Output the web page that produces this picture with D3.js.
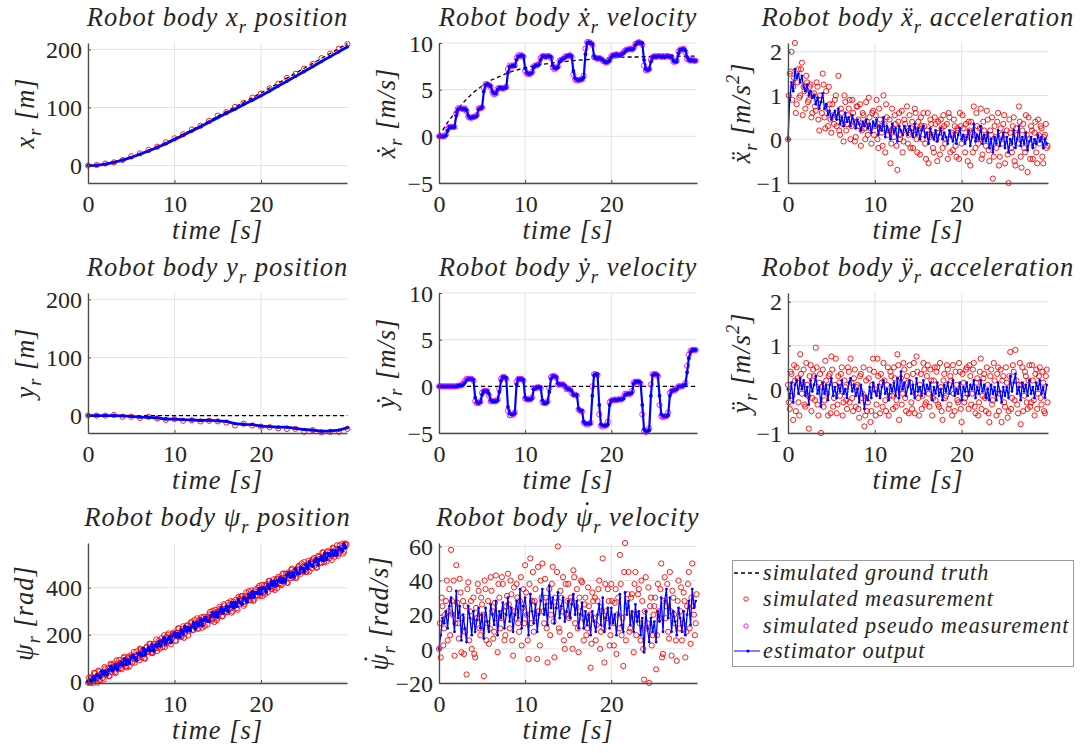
<!DOCTYPE html>
<html><head><meta charset="utf-8">
<script src="https://cdn.jsdelivr.net/npm/d3@7"></script>
<style>
body{margin:0;background:#fff}
svg{display:block}
</style>
</head><body>
<svg id="c" width="1080" height="753"></svg>
<script>
// ---------------- DATA ----------------
// 1 Hz samples (s)
const tSec = [0,1,2,3,4,5,6,7,8,9,10,11,12,13,14,15,16,17,18,19,20,21,22,23,24,25,26,27,28,29,30];
// dense series sample period (s); "B" series are sampled half a period later
const dt = 0.2;

const timeTicks = [0,10,20];
const posTicks = [0,100,200];
const velTicks = [-5,0,5,10];
const accTicks = [-1,0,1,2];
const psiPosTicks = [0,200,400];
const psiVelTicks = [-20,0,20,40,60];

// x position [m]
const xPosTruth = [0,0.7,2.8,6,10,15,20.5,26.5,33,39.5,46.5,54,61.5,69,77,85,93,101,109,117,125,133.5,142,150.5,159,167.5,176,184.5,193,201.5,210];
const xPosMeas  = [0,1,3.5,5.5,9.5,16,21,27,32.5,40,47,54,62,68.5,77,86,92,101,108,117,124,133,141,151,158,167,175,185,193,201,209];
const xPosEst   = [0,0.5,2.5,5.5,9.5,14,19.5,25,31,37.5,45,52,59.5,67,74.5,82.5,90,97,105,112.5,120,128.5,137,145,153.5,162,170.5,179,187.5,196,204.5];

// y position [m]
const yPosTruth = [0,0,0,0,0,0,0,0,0,0,0,0,0,0,0,0,0,0,0,0,0,0,0,0,0,0,0,0,0,0,0];
const yPosMeas  = [0,0,0,1,-2,-2,-4,-2,-5,-7.5,-6,-9,-8,-10,-9,-10,-12,-17,-14,-17,-19,-20,-22,-23,-23,-28,-25,-29,-28,-28,-23];
const yPosEst   = [0,0,0,0,-0.5,-1.5,-2.5,-3,-4,-6,-6,-7,-7.5,-8.5,-8,-9,-10,-14,-15,-15.5,-18,-19,-20,-20,-22,-24,-25,-27,-26.5,-25,-21];

// x velocity [m/s]
const xVelTruth = [0,1.5,2.7,3.8,4.7,5.4,6.0,6.4,6.8,7.1,7.35,7.55,7.7,7.85,7.95,8.05,8.15,8.2,8.3,8.35,8.4,8.45,8.5,8.5,8.55,8.55,8.6,8.6,8.6,8.6,8.6];
const xVelEst = [0,0,0,0,0.1, 0.6,1.0,1.0,1.0,1.0, 2.2,2.9,3.0,3.0,2.9,3.0,2.8, 2.2,2.0,2.0,2.1,2.1,2.2, 2.9,3.0,3.1, 4.8,5.5,5.6,5.5,5.4, 4.8,4.6,4.6, 5.0,5.2,5.2,5.1,5.2,5.2, 6.8,7.5,7.5,7.6,7.5, 8.2,8.6,8.6,8.7,8.6, 7.3,6.8,6.7,6.7,6.8, 7.4,7.6,7.6,7.7, 8.2,8.6,8.6,8.5,8.6,8.6,8.5, 7.6,7.3,7.3,7.4, 8.0,8.2,8.3,8.4,8.6,8.6,8.7,8.6, 7.0,6.2,6.1,6.0,6.1,6.1,6.3, 8.8,10.0,10.1,10.0,9.9, 8.6,8.4,8.3,8.4,8.3,8.2, 8.0,7.9,8.0,8.1, 8.5,8.7,8.7,8.8,8.7,8.7,8.8,8.9, 9.1,9.3,9.3,9.4,9.3,9.4, 9.8,10.0,10.1,10.0,10.0, 8.2,7.2,7.1,7.2, 8.0,8.5,8.6,8.5,8.6,8.6,8.5,8.6,8.5,8.6,8.6,8.5,8.6, 8.1,8.0,8.0, 8.9,9.3,9.3,9.4,9.2, 8.5,8.2,8.1,8.2,8.1,8.1];
const xVelPseudo = [0,0,0,0,0.2, 0.8,1.0,1.0,1.0,1.0, 2.5,3.0,3.0,3.0,2.9,3.0,2.7, 2.1,2.0,2.0,2.1,2.1,2.3, 3.0,3.0,3.1, 5.2,5.6,5.6,5.5,5.3, 4.7,4.5,4.6, 5.1,5.2,5.2,5.1,5.2,5.3, 7.2,7.6,7.5,7.6,7.6, 8.4,8.7,8.6,8.7,8.5, 7.0,6.7,6.7,6.7,6.9, 7.5,7.6,7.6,7.8, 8.4,8.6,8.6,8.5,8.6,8.6,8.4, 7.4,7.2,7.3,7.5, 8.1,8.2,8.3,8.5,8.6,8.6,8.7,8.5, 6.6,6.1,6.0,6.0,6.1,6.1,6.5, 9.4,10.1,10.1,10.0,9.8, 8.5,8.4,8.3,8.4,8.3,8.1, 8.0,7.9,8.0,8.2, 8.6,8.7,8.7,8.8,8.7,8.7,8.8,9.0, 9.2,9.3,9.3,9.4,9.3,9.5, 9.9,10.0,10.1,10.0,9.8, 7.6,7.1,7.1,7.2, 8.2,8.5,8.6,8.5,8.6,8.6,8.5,8.6,8.5,8.6,8.6,8.5,8.5, 8.0,8.0,8.1, 9.1,9.3,9.3,9.4,9.0, 8.3,8.2,8.1,8.2,8.1,8.1];

// y velocity [m/s]
const yVelTruth = [0,0,0,0,0,0,0,0,0,0,0,0,0,0,0,0,0,0,0,0,0,0,0,0,0,0,0,0,0,0,0];
const yVelEst = [0,0,0,0,0,0,0,0,0,0,0, 0.05,0.1,0.1, 0.2,0.4,0.7, 0.8,0.8,0.8,0.7, -1.2,-1.7,-1.8,-1.7, -0.9,-0.5,-0.5,-0.5, -0.8,-1.5,-1.6,-1.6,-1.6,-1.5, -0.6, 0.6,1.0,1.0,0.9, -2.2,-2.9,-3.0,-3.0,-2.9, 0.2,0.8,0.8,0.8,0.7, -1.2,-1.4,-1.4,-1.4,-1.3, -0.3,-0.2,-0.1,-0.1,-0.1, -1.5,-1.8,-1.8,-1.7, -0.6,0.8,1.1,1.1,1.0, 0.3,0.2,0.2,0.2,0.1, -0.2,-0.3,-0.3, -0.5,-0.9,-0.9,-0.9, -2.4,-2.6,-2.6, -3.8,-4.0,-4.0,-4.0,-4.0, -1.0,1.2,1.3,1.3, -2.0,-4.1,-4.2,-4.2,-4.2,-4.1, -2.0,-1.5,-1.5,-1.4,-1.5,-1.4,-1.4,-1.4,-1.3, -0.9,-0.8,-0.8,-0.8,-0.7, 0.3,0.5,0.5,0.5,0.4, -2.0,-4.6,-4.8,-4.8,-4.7, -1.0,1.2,1.3,1.3,1.2, -1.0,-3.0,-3.2,-3.2,-3.2,-3.1, -1.0,-0.5,-0.4,-0.4,-0.3, 0,0,0,0.1,0.2, 1.5,3.0,3.7,3.9,3.9,3.9];
const yVelPseudo = [0,0,0,0,0,0,0,0,0,0,0, 0.05,0.1,0.1, 0.3,0.6,0.8, 0.8,0.8,0.8,0.6, -1.6,-1.8,-1.8,-1.6, -0.7,-0.5,-0.5,-0.5, -1.0,-1.6,-1.6,-1.6,-1.6,-1.4, -0.3, 0.8,1.0,1.0,0.8, -2.6,-3.1,-3.1,-3.0,-2.8, 0.5,0.8,0.8,0.8,0.6, -1.3,-1.4,-1.4,-1.4,-1.2, -0.2,-0.2,-0.1,-0.1,-0.2, -1.7,-1.8,-1.8,-1.6, -0.2,1.0,1.1,1.1,0.9, 0.2,0.2,0.2,0.2,0.0, -0.3,-0.3,-0.3, -0.7,-0.9,-0.9,-1.0, -2.5,-2.6,-2.7, -3.9,-4.0,-4.1,-4.0,-3.9, 0.0,1.3,1.3,1.2, -3.0,-4.2,-4.3,-4.2,-4.2,-3.8, -1.7,-1.5,-1.5,-1.4,-1.5,-1.4,-1.4,-1.4,-1.2, -0.8,-0.8,-0.8,-0.8,-0.5, 0.4,0.5,0.5,0.5,0.3, -3.0,-4.8,-4.9,-4.8,-4.5, 0.2,1.3,1.3,1.3,1.1, -2.0,-3.2,-3.3,-3.2,-3.2,-2.8, -0.7,-0.5,-0.4,-0.4,-0.2, 0,0,0,0.1,0.4, 2.2,3.4,3.8,3.9,3.9,3.9];

// x acceleration [m/s^2]
const xAccMeas = [0.0,1.5,2.0,1.2,2.2, 0.8,1.6,1.0,1.75,1.2, 0.7,1.3,0.9,1.25,0.6, 1.05,0.65,1.2,0.2,0.9, 1.5,0.5,1.1,0.3,0.8, 0.15,0.55,0.9,0.3,1.45, 0.1,0.6,-0.05,0.85,0.35, 0.7,0.0,0.9,0.4,0.05, 0.75,0.3,-0.15,0.6,0.25, 0.85,0.1,0.5,-0.1,0.65, 0.3,0.9,-0.2,0.45,0.15, 1.0,-0.3,0.5,0.2,-0.55, 0.7,0.05,0.35,-0.7,0.6, 0.1,-0.3,0.45,0.2,-0.1, 0.55,0.25,-0.2,0.7,0.0, 0.4,-0.35,0.3,0.6,-0.1, 0.2,-0.55,0.45,0.1,-0.3, 0.35,-0.5,0.15,0.45,-0.2, 0.3,0.0,-0.45,0.5,0.1, -0.25,0.3,-0.4,0.2,0.6, -0.1,0.25,-0.3,0.05,0.4, -0.6,0.15,0.75,-0.2,0.3, 0.0,0.7,-0.35,0.2,-0.15, 0.45,-0.5,0.1,-0.9,0.3, -0.2,0.6,-0.4,0.1,0.35, -0.55,0.2,-1.0,0.15,-0.3, 0.5,-0.6,0.1,0.75,-0.4, 0.2,-0.2,0.55,-0.75,0.0, 0.3,-0.45,0.15,-0.3,0.45, -0.1,0.25,-0.55,0.1,-0.2];
const xAccMeasB = [1.0,1.55,0.9,1.4,0.6, 1.3,0.95,1.6,0.55,1.1, 1.45,0.85,1.2,0.5,1.0, 0.75,1.3,0.45,1.0,0.6, 1.25,0.25,0.7,1.2,0.45, 0.8,0.35,1.0,0.5,0.2, 0.7,0.35,1.0,0.2,0.55, 0.9,0.3,0.6,-0.05,0.75, 0.45,0.8,0.2,0.55,0.0, 0.4,0.95,0.25,0.6,0.1, 0.55,0.0,0.7,0.3,-0.15, 0.35,0.8,0.1,0.45,-0.1, 0.25,0.55,-0.15,0.4,0.0, 0.65,-0.05,0.35,0.75,0.1, -0.2,0.4,0.1,0.6,-0.3, 0.25,0.5,0.0,0.3,-0.45, 0.6,0.05,0.35,-0.2,0.5, 0.0,0.4,-0.35,0.25,0.55, -0.1,0.35,0.6,-0.3,0.15, 0.45,-0.15,0.25,-0.45,0.3, 0.55,0.0,0.35,-0.5,0.2, 0.4,-0.3,0.1,0.6,-0.1, 0.25,-0.45,0.4,0.05,0.65, -0.25,0.2,0.5,-0.4,0.05, 0.4,-0.6,0.25,-0.1,0.55, 0.1,-0.35,0.45,-0.2,0.3, -0.5,0.25,-0.1,0.4,-0.65, 0.35,-0.3,0.1,0.5,-0.45, 0.2,-0.15,0.4,-0.55,0.1, 0.3,-0.4,0.05,0.35,-0.15];
const xAccEst = [0.0,0.9,1.3,1.1,1.6, 1.4,1.5,1.3,1.45,1.2, 1.1,1.25,1.0,1.1,0.95, 1.0,0.8,0.95,0.7,0.85, 1.05,0.7,0.8,0.55,0.65, 0.45,0.55,0.65,0.45,0.7, 0.35,0.5,0.3,0.6,0.4, 0.5,0.3,0.55,0.4,0.25, 0.45,0.35,0.2,0.4,0.3, 0.45,0.25,0.35,0.15,0.4, 0.3,0.45,0.1,0.3,0.2, 0.5,0.05,0.3,0.2,0.0, 0.35,0.15,0.25,-0.05,0.3, 0.2,0.1,0.3,0.2,0.1, 0.3,0.2,0.05,0.35,0.1, 0.25,0.0,0.2,0.3,0.05, 0.15,-0.1,0.25,0.1,0.0, 0.2,-0.05,0.1,0.25,0.0, 0.15,0.05,-0.1,0.2,0.05, -0.05,0.15,-0.1,0.1,0.25, 0.0,0.1,-0.1,0.05,0.2, -0.15,0.05,0.35,-0.05,0.1, 0.0,0.3,-0.1,0.1,-0.05, 0.15,-0.2,0.0,-0.3,0.05, -0.1,0.2,-0.15,0.0,0.15, -0.2,0.05,-0.3,0.0,-0.1, 0.2,-0.2,0.0,0.3,-0.15, 0.05,-0.1,0.15,-0.25,-0.05, 0.05,-0.2,0.0,-0.1,0.1, -0.05,0.05,-0.2,0.0,-0.1];

// y acceleration [m/s^2]
const yAccMeas = [0.1,-0.45,0.35,-0.7,0.2, 0.5,-0.3,0.8,-0.1,0.45, -0.4,0.1,-0.9,0.55,-0.2, 0.3,0.95,-0.35,0.15,-1.0, 0.45,-0.25,0.2,-0.6,0.35, 0.75,-0.4,0.1,-0.55,0.3, -0.15,0.5,-0.3,0.05,-0.45, 0.4,0.7,-0.2,0.25,-0.4, 0.1,-0.65,0.35,-0.1,-0.85, 0.2,-0.3,0.45,-0.5,0.7, 0.0,-0.35,0.3,-0.55,0.15, 0.6,-0.25,0.1,-0.6,0.4, -0.15,0.5,-0.4,0.8,-0.7, 0.25,-0.1,0.45,-0.5,0.15, 0.55,-0.3,0.35,-0.55,0.75, -0.2,0.1,-0.45,0.6,-0.35, 0.3,-0.1,0.45,-0.6,0.2, -0.25,0.5,-0.4,0.05,-0.7, 0.35,-0.15,0.45,-0.35,0.2, 0.55,-0.5,0.1,-0.3,0.4, -0.75,0.15,-0.2,0.5,-0.45, 0.3,-0.1,0.6,-0.55,0.25, -0.3,0.7,-0.15,0.35,-0.5, 0.1,-0.75,0.45,-0.25,0.2, -0.6,0.5,-0.1,-0.75,0.3, -0.4,0.15,-0.5,0.85,-0.2, 0.4,0.9,-0.35,0.1,-0.8, 0.5,-0.15,0.3,-0.45,0.55, -0.3,0.2,-0.6,0.45,-0.1, 0.5,-0.35,0.15,-0.55,0.45];
const yAccMeasB = [-0.3,0.4,-0.15,0.55,-0.5, 0.25,-0.6,0.35,0.1,-0.35, 0.6,-0.15,0.3,-0.5,0.45, -0.25,0.5,-0.6,0.35,0.05, -0.4,0.65,-0.1,0.3,-0.55, 0.45,-0.2,0.7,-0.35,0.15, 0.35,-0.6,0.2,-0.25,0.5, -0.3,0.15,-0.5,0.45,0.05, -0.45,0.3,-0.2,0.5,-0.6, -0.5,0.25,-0.75,0.1,0.4, -0.6,0.7,-0.1,0.35,-0.4, 0.2,-0.5,0.5,-0.15,0.3, -0.45,0.25,-0.25,0.55,0.0, -0.35,0.6,-0.2,0.3,-0.55, 0.15,-0.45,0.6,-0.1,0.4, -0.6,0.35,-0.15,0.45,-0.3, 0.55,-0.4,0.2,-0.2,0.5, 0.4,-0.35,0.6,-0.5,0.2, -0.2,0.55,-0.45,0.3,-0.6, -0.1,0.4,-0.25,0.6,-0.45, 0.35,-0.3,0.45,-0.1,0.55, -0.35,0.45,-0.4,0.15,-0.6, 0.4,-0.45,0.25,-0.2,0.5, -0.55,0.3,-0.35,0.6,-0.1, 0.35,-0.5,0.45,0.2,-0.3, 0.5,-0.65,0.3,-0.45,0.55, -0.25,0.2,-0.55,0.6,0.1, -0.5,0.4,-0.3,0.2,-0.4, 0.55,-0.25,0.35,-0.45,0.3, -0.2,0.4,-0.5,0.3,-0.3];
const yAccEst = [0.0,-0.2,0.15,-0.3,0.1, 0.2,-0.1,0.25,0.0,0.2, -0.15,0.05,-0.35,0.2,-0.05, 0.1,0.3,-0.1,0.05,-0.4, 0.15,-0.1,0.1,-0.25,0.1, 0.25,-0.15,0.05,-0.2,0.1, -0.05,0.2,-0.1,0.0,-0.2, 0.15,0.25,-0.05,0.1,-0.15, 0.0,-0.3,0.1,-0.1,-0.45, -0.15,-0.25,0.05,-0.2,0.15, -0.05,-0.15,0.1,-0.2,0.05, 0.2,-0.1,0.0,-0.25,0.1, -0.05,0.15,-0.15,0.25,-0.2, 0.4,0.0,0.15,-0.15,0.05, 0.2,-0.1,0.1,-0.2,0.25, -0.05,0.05,-0.15,0.2,-0.1, 0.1,0.0,0.15,-0.25,0.05, -0.1,0.15,-0.15,0.0,-0.25, 0.1,-0.05,0.15,-0.1,0.05, 0.2,-0.15,0.0,-0.1,0.15, -0.25,0.05,-0.05,0.15,-0.15, 0.1,0.0,0.2,-0.2,0.05, -0.1,0.2,-0.05,0.1,-0.2, 0.0,-0.25,0.1,-0.1,0.05, -0.25,0.15,-0.05,-0.3,0.05, -0.15,0.05,-0.2,0.3,-0.05, 0.15,0.35,-0.1,0.05,-0.25, 0.15,-0.05,0.1,-0.15,0.2, -0.1,0.05,-0.2,0.15,0.0, 0.2,-0.1,0.05,-0.2,0.1];

// psi position [rad]
const psiPosMeas = [-4,-4,22,-5,37,13,48,7,39,9, 57,39,24,77,42,78,37,71,93,58, 69,107,66,101,66,113,103,81,129,101, 141,104,133,99,150,130,162,122,161,142, 130,175,168,147,198,161,199,174,159,204, 203,175,227,201,191,236,205,239,197,236, 254,221,233,270,227,264,230,277,266,243, 286,265,302,254,297,272,319,295,280,325, 296,336,310,294,341,333,313,361,330,365, 323,365,352,386,347,376,349,393,366,408, 380,365,412,408,381,429,395,420,390,437, 446,419,414,461,443,421,465,441,481,454, 442,479,494,459,475,509,467,498,469,513, 521,493,485,535,523,504,550,521,511,554, 551,518,568,542,580,545,558,587,553,587];
const psiPosMeasB = [17,-4,16,38,5,-4,44,31,16,63, 32,57,24,73,63,41,91,54,81,53, 102,79,61,108,104,81,127,95,114,91, 138,134,99,145,127,161,126,123,160,180, 148,141,186,173,147,190,206,171,184,210, 174,208,227,191,223,187,224,240,216,253, 220,263,236,225,264,274,248,237,276,271, 297,259,269,306,262,300,311,278,330,301, 296,325,343,299,330,349,306,351,364,338, 331,380,363,347,388,344,384,369,400,365, 412,380,374,415,429,403,394,436,428,399, 440,410,459,430,459,420,454,476,442,471, 442,488,467,503,468,496,467,515,494,483, 526,516,486,531,508,550,509,536,555,524, 535,570,531,565,536,580,568,545,587,583];
const psiPosEst = [0,7,4,20,9,29,25,18,45,32, 45,30,50,65,47,59,73,52,74,82, 72,97,75,92,80,104,112,102,92,120, 120,112,141,116,133,145,133,157,132,156, 151,170,153,172,186,162,179,190,168,196, 206,192,204,191,219,204,234,216,230,218, 234,250,226,251,241,263,239,263,272,259, 258,280,292,279,295,275,298,314,292,306, 320,300,320,336,316,335,321,349,336,330, 356,353,339,371,358,382,361,380,376,396, 374,398,398,383,412,398,426,410,427,408, 430,441,423,438,424,453,462,446,462,447, 479,463,460,485,482,468,498,482,509,496, 492,512,522,498,521,532,518,545,521,544, 537,558,539,557,540,570,565,556,584,570];

// psi velocity [rad/s]
const psiVelMeas = [0,-5,25,12,28, 5,35,58,20,-4, 49,15,41,-2,28, 10,-15,39,22,0, 30,-5,18,34,8, 26,-16,35,15,3, 42,22,10,43,-2, 30,18,38,5,25, 44,12,32,-4,22, 38,15,28,2,35, 49,20,-6,53,28, 10,35,-6,22,40, 50,15,30,-8,35, 20,48,-5,25,60, 10,30,42,0,20, 38,8,28,46,15, 35,-2,22,39,5, 30,12,25,-11,33, 18,5,28,40,10, 53,-8,22,35,2, 38,15,27,-3,30, 55,8,-10,62,25, 45,12,32,-2,45, 20,35,5,28,-18, 42,15,-20,30,8, 25,-12,38,18,50, -3,42,25,10,45, -4,30,15,-7,40, 22,5,33,-5,25, 45,3,50,20,15];
const psiVelMeasB = [15,30,2,20,40, 22,8,28,40,15, 27,6,33,18,-3, 25,35,5,28,16, -3,24,38,12,30, 20,40,5,28,12, 34,6,27,18,38, 12,42,22,8,31, 26,40,5,36,18, 30,10,42,24,15, 33,5,38,15,45, 28,18,48,2,30, 22,41,12,28,8, 38,16,30,45,12, 34,22,5,38,28, 18,30,0,42,25, 12,30,40,18,26, 8,36,20,3,28, 30,14,35,0,22, 12,38,18,28,8, 28,2,35,20,12, 38,18,45,5,32, 10,30,20,38,8, 32,15,40,0,22, 12,36,25,2,20, 30,8,22,35,-5, 28,18,38,6,22, 34,20,5,28,12, 36,15,28,10,38, 12,30,25,8,32];
const psiVelEst = [0,8,18,15,22, 12,25,30,20,10, 34,18,25,5,20, 12,4,25,18,8, 22,10,17,24,12, 20,6,24,16,10, 26,20,14,28,8, 22,18,27,12,20, 30,16,24,10,20, 28,18,35,12,25, 30,20,8,32,22, 15,26,10,20,28, 35,20,26,14,37, 24,30,15,24,33, 18,25,30,16,22, 28,18,26,32,20, 28,12,20,27,12, 22,14,20,8,22, 16,10,20,26,14, 30,10,18,24,12, 24,15,20,8,20, 32,14,10,33,20, 28,14,22,10,26, 16,22,8,18,-2, 22,12,4,18,10, 16,4,22,16,30, 10,28,35,18,30, 10,22,16,8,24, 18,10,22,8,20, 28,14,35,24,28];

const legendLabels = ["simulated ground truth","simulated measurement","simulated pseudo measurement","estimator output"];

// ---------------- FONTS ----------------
function hasFont(name) {
  const c = document.createElement('canvas').getContext('2d');
  const s = 'mmmmmmmmwwwwwlllii1O0';
  c.font = '72px monospace'; const a = c.measureText(s).width;
  c.font = `72px "${name}", monospace`; const b = c.measureText(s).width;
  return Math.abs(a - b) > 0.5;
}
const isLib = hasFont('Liberation Serif');
const SERIF = isLib ? '"Liberation Serif", serif' : (hasFont('DejaVu Serif') ? '"DejaVu Serif", serif' : 'serif');
const LS = isLib ? 1.0 : 0;   // letter spacing for italic texts

// ---------------- DRAWING ----------------
const svg = d3.select('#c').style('font-family', SERIF);
const tDense = xAccMeas.map((_, i) => i * dt);
const tDenseB = xAccMeasB.map((_, i) => i * dt + dt / 2);
const zip = (t, v) => v.map((d, i) => [t[i], d]);

const cols = [[88,347],[439,697],[788,1048]];
const rows = [[43,183],[293,433],[543,683]];
const tDomain = [0, 29.95];
const C = {meas:'#ff0000', pseudo:'#ff00ff', est:'#0000ff'};
const INK = '#262626';

const sub = t => ({t, sub:true});
const sup = t => ({t, sup:true});
const dotted = t => ({t, dot:true});

function addRich(textSel, parts, fs) {
  let shift = 0, idx = 0; const dots = [];
  parts.forEach(p => {
    const ts = textSel.append('tspan');
    let txt = p, target = 0, size = null;
    if (typeof p === 'object') {
      txt = p.t;
      if (p.sub || p.sup) { size = fs * 0.7; target = p.sub ? fs * 0.25 : -fs * 0.42; }
      if (p.dot) dots.push(idx);
    }
    if (target - shift !== 0) ts.attr('dy', target - shift);
    if (size) ts.attr('font-size', size);
    ts.text(txt);
    idx += txt.length;
    shift = target;
  });
  return dots;
}
function plain(parts) { return parts.map(p => typeof p === 'string' ? p : p.t).join(''); }
function measure(parts, italic) {
  const t = svg.append('text').attr('font-size', 100).attr('font-style', italic ? 'italic' : 'normal');
  addRich(t, parts, 100);
  const w = t.node().getBBox().width; t.remove(); return w;
}
function fit(parts, italic, target, ls) {
  const n = plain(parts).length;
  return 100 * (target - ls * (n - 1)) / measure(parts, italic);
}
function richText(transform, parts, fs, ls, anchor) {
  const g = svg.append('g').attr('transform', transform);
  const t = g.append('text').attr('text-anchor', anchor || 'middle').attr('font-style', 'italic')
    .attr('font-size', fs).attr('fill', INK).style('letter-spacing', ls + 'px');
  const dots = addRich(t, parts, fs);
  dots.forEach(i => {
    const e = t.node().getExtentOfChar(i);
    g.append('circle').attr('cx', e.x + e.width * 0.66).attr('cy', -fs * 0.84)
      .attr('r', Math.max(1.2, fs * 0.055)).attr('fill', INK);
  });
  return g;
}

const TITLE_FS = fit(['Robot body ','x',sub('r'),' position'], true, 261, LS);
const LABEL_FS = fit(['time [s]'], true, 90, LS);
const TICK_FS = fit(['200'], false, 36, 0);
const LEG_FS = fit(['simulated pseudo measurement'], true, 306, LS);

const panels = [
  {r:0,c:0, title:['Robot body ','x',sub('r'),' position'], ylab:['x',sub('r'),' [m]'], ylabX:34,
   ydom:[-30,211], yticks:posTicks,
   layers:[{k:'truth',d:zip(tSec,xPosTruth)},{k:'meas',d:zip(tSec,xPosMeas)},{k:'est',d:zip(tSec,xPosEst),w:2.8,r:1.7}]},
  {r:0,c:1, title:['Robot body ','\u1E8B',sub('r'),' velocity'], ylab:['\u1E8B',sub('r'),' [m/s]'], ylabX:395,
   ydom:[-5,10], yticks:velTicks,
   layers:[{k:'truth',d:zip(tSec,xVelTruth)},{k:'pseudo',d:zip(tDense,xVelPseudo)},{k:'est',d:zip(tDense,xVelEst),w:2.2,r:1.9}]},
  {r:0,c:2, title:['Robot body ','\u1E8D',sub('r'),' acceleration'], ylab:['\u1E8D',sub('r'),' [m/s',sup('2'),']'], ylabX:750,
   ydom:[-1,2.2], yticks:accTicks,
   layers:[{k:'meas',d:zip(tDense,xAccMeas)},{k:'meas',d:zip(tDenseB,xAccMeasB)},{k:'est',d:zip(tDense,xAccEst),w:1.3,r:1.4}]},
  {r:1,c:0, title:['Robot body ','y',sub('r'),' position'], ylab:['y',sub('r'),' [m]'], ylabX:34,
   ydom:[-30,211], yticks:posTicks,
   layers:[{k:'truth',d:zip(tSec,yPosTruth)},{k:'meas',d:zip(tSec,yPosMeas)},{k:'est',d:zip(tSec,yPosEst),w:2.8,r:1.7}]},
  {r:1,c:1, title:['Robot body ','\u1E8F',sub('r'),' velocity'], ylab:['\u1E8F',sub('r'),' [m/s]'], ylabX:395,
   ydom:[-5,10], yticks:velTicks,
   layers:[{k:'truth',d:zip(tSec,yVelTruth)},{k:'pseudo',d:zip(tDense,yVelPseudo)},{k:'est',d:zip(tDense,yVelEst),w:2.2,r:1.9}]},
  {r:1,c:2, title:['Robot body ','\u00FF',sub('r'),' acceleration'], ylab:['\u00FF',sub('r'),' [m/s',sup('2'),']'], ylabX:750,
   ydom:[-1,2.2], yticks:accTicks,
   layers:[{k:'meas',d:zip(tDense,yAccMeas)},{k:'meas',d:zip(tDenseB,yAccMeasB)},{k:'est',d:zip(tDense,yAccEst),w:1.3,r:1.4}]},
  {r:2,c:0, title:['Robot body ','\u03C8',sub('r'),' position'], ylab:['\u03C8',sub('r'),' [rad]'], ylabX:33,
   ydom:[-5,590], yticks:psiPosTicks,
   layers:[{k:'meas',d:zip(tDense,psiPosMeas)},{k:'meas',d:zip(tDenseB,psiPosMeasB)},{k:'est',d:zip(tDense,psiPosEst),w:1.6,r:2.0}]},
  {r:2,c:1, title:['Robot body ',dotted('\u03C8'),sub('r'),' velocity'], ylab:[dotted('\u03C8'),sub('r'),' [rad/s]'], ylabX:388,
   ydom:[-20,62], yticks:psiVelTicks,
   layers:[{k:'meas',d:zip(tDense,psiVelMeas)},{k:'meas',d:zip(tDenseB,psiVelMeasB)},{k:'est',d:zip(tDense,psiVelEst),w:1.3,r:1.4}]}
];

panels.forEach(p => {
  const [x0, x1] = cols[p.c], [y0, y1] = rows[p.r];
  const x = d3.scaleLinear().domain(tDomain).range([x0, x1]);
  const y = d3.scaleLinear().domain(p.ydom).range([y1, y0]);
  const g = svg.append('g');

  g.append('g').selectAll('line').data(p.yticks).join('line')
    .attr('x1', x0).attr('x2', x1).attr('y1', d => y(d)).attr('y2', d => y(d))
    .attr('stroke', '#e2e2e2').attr('stroke-width', 1);
  g.append('g').selectAll('line').data(timeTicks).join('line')
    .attr('x1', d => x(d)).attr('x2', d => x(d)).attr('y1', y0).attr('y2', y1)
    .attr('stroke', '#e2e2e2').attr('stroke-width', 1);

  const line = d3.line().x(d => x(d[0])).y(d => y(d[1]));
  p.layers.forEach(L => {
    if (L.k === 'truth') {
      g.append('path').attr('d', line(L.d)).attr('fill', 'none')
        .attr('stroke', '#000').attr('stroke-width', 1.3).attr('stroke-dasharray', '4,3');
    } else if (L.k === 'meas' || L.k === 'pseudo') {
      g.append('g').selectAll('circle').data(L.d).join('circle')
        .attr('cx', d => x(d[0])).attr('cy', d => y(d[1])).attr('r', 2.6)
        .attr('fill', 'none').attr('stroke', C[L.k]).attr('stroke-width', 0.9);
    } else if (L.k === 'est') {
      g.append('path').attr('d', line(L.d)).attr('fill', 'none')
        .attr('stroke', C.est).attr('stroke-width', L.w).attr('stroke-linejoin', 'round');
      g.append('g').selectAll('circle').data(L.d).join('circle')
        .attr('cx', d => x(d[0])).attr('cy', d => y(d[1])).attr('r', L.r)
        .attr('fill', C.est);
    }
  });

  const ax = g.append('g').attr('transform', `translate(0,${y1})`)
    .call(d3.axisBottom(x).tickValues(timeTicks).tickFormat(d3.format('d')).tickSizeInner(-3).tickSizeOuter(0).tickPadding(12));
  const ay = g.append('g').attr('transform', `translate(${x0},0)`)
    .call(d3.axisLeft(y).tickValues(p.yticks).tickFormat(d3.format('d')).tickSizeInner(-3).tickSizeOuter(0).tickPadding(6));
  [ax, ay].forEach(a => {
    a.attr('font-family', null).attr('font-size', TICK_FS);
    a.select('.domain').attr('stroke', '#4a4a4a').attr('stroke-width', 1.3);
    a.selectAll('.tick line').attr('stroke', '#4a4a4a');
    a.selectAll('.tick text').attr('fill', INK);
  });
  ay.selectAll('.tick text').attr('dy', '0.34em');
  ax.selectAll('.tick text').attr('dy', '0.71em');

  richText(`translate(${(x0 + x1) / 2},${y0 - 17})`, p.title, TITLE_FS, LS);
  richText(`translate(${(x0 + x1) / 2},${y1 + 56})`, ['time [s]'], LABEL_FS, LS);
  richText(`translate(${p.ylabX},${(y0 + y1) / 2}) rotate(-90)`, p.ylab, LABEL_FS, LS);
});

// legend
const lg = svg.append('g');
lg.append('rect').attr('x', 732.5).attr('y', 560.5).attr('width', 341).attr('height', 106)
  .attr('fill', '#fff').attr('stroke', '#9a9a9a').attr('stroke-width', 1);
const rowY = [573, 599, 626, 651];
const lx0 = 734, lx1 = 760, lxm = 746;
lg.append('line').attr('x1', lx0).attr('x2', lx1).attr('y1', rowY[0]).attr('y2', rowY[0])
  .attr('stroke', '#000').attr('stroke-width', 1.3).attr('stroke-dasharray', '4,3');
lg.append('circle').attr('cx', lxm).attr('cy', rowY[1]).attr('r', 2.2).attr('fill', 'none').attr('stroke', C.meas).attr('stroke-width', 0.9);
lg.append('circle').attr('cx', lxm).attr('cy', rowY[2]).attr('r', 2.2).attr('fill', 'none').attr('stroke', C.pseudo).attr('stroke-width', 0.9);
lg.append('line').attr('x1', lx0).attr('x2', lx1).attr('y1', rowY[3]).attr('y2', rowY[3])
  .attr('stroke', C.est).attr('stroke-width', 1);
lg.append('circle').attr('cx', 748).attr('cy', rowY[3]).attr('r', 1.6).attr('fill', C.est);
legendLabels.forEach((s, i) => {
  lg.append('text').attr('x', 763).attr('y', rowY[i] + LEG_FS * 0.3)
    .attr('font-style', 'italic').attr('font-size', LEG_FS).attr('fill', INK)
    .style('letter-spacing', LS + 'px').text(s);
});
</script>
</body></html>
